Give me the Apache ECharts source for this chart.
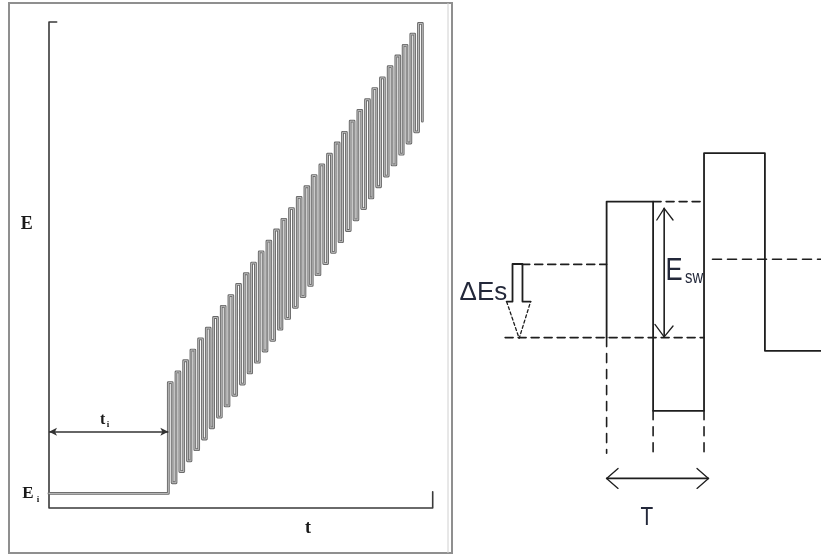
<!DOCTYPE html>
<html>
<head>
<meta charset="utf-8">
<script src="https://cdn.jsdelivr.net/npm/echarts@6/dist/echarts.min.js"></script>
<style>
html, body { margin: 0; padding: 0; background: #fff; }
#c { width: 821px; height: 555px; }
</style>
</head>
<body>
<div id="c"></div>
<script>
// ---------- Left panel: square-wave potential program, E vs t ----------
const restPotential = 3.0;      // E_i level
const restEnd = 31.1;           // t_i, end of the rest period
const tiArrowLevel = 15.7;      // height of the t_i dimension arrow

// time of each rising edge and falling edge of the pulses
const pulseUp = [31.1, 33.1, 35.1, 37.0, 39.0, 41.0, 42.9, 44.9, 46.9, 48.9, 50.9, 52.8,
                 54.8, 56.8, 58.8, 60.7, 62.7, 64.7, 66.7, 68.6, 70.6, 72.6, 74.6, 76.5,
                 78.5, 80.5, 82.5, 84.4, 86.4, 88.4, 90.4, 92.3, 94.3, 96.3];
const pulseDown = [32.1, 34.1, 36.1, 38.0, 40.0, 42.0, 43.9, 45.9, 47.9, 49.9, 51.9, 53.8,
                   55.8, 57.8, 59.8, 61.7, 63.7, 65.7, 67.7, 69.6, 71.6, 73.6, 75.6, 77.5,
                   79.5, 81.5, 83.5, 85.4, 87.4, 89.4, 91.4, 93.3, 95.3, 97.3];
// forward (top) and reverse (bottom) pulse potentials
const pulseTop = [25.8, 28.0, 30.3, 32.5, 34.8, 37.0, 39.2, 41.5, 43.7, 46.0, 48.2, 50.4,
                  52.7, 54.9, 57.2, 59.4, 61.6, 63.9, 66.1, 68.4, 70.6, 72.8, 75.1, 77.3,
                  79.6, 81.8, 84.0, 86.3, 88.5, 90.8, 93.0, 95.2, 97.5, 99.7];
const pulseBottom = [5.2, 7.5, 9.7, 12.0, 14.2, 16.5, 18.7, 21.0, 23.2, 25.5, 27.8, 30.0,
                     32.3, 34.5, 36.8, 39.0, 41.3, 43.5, 45.8, 48.0, 50.3, 52.6, 54.8, 57.1,
                     59.3, 61.6, 63.8, 66.1, 68.3, 70.6, 72.8, 75.1, 77.4, 79.6];

// ---------- Right panel: one period in detail ----------
const swEdges = [41.9, 54.5, 68.3, 84.8, 100];   // edge times
const swLevels = [84.6, 32.3, 96.7, 47.3];       // level held after each edge
const swStartLevel = 50.6;
const stepBefore = 68.9;     // staircase level before the step
const stepAfter = 50.6;      // staircase level after the step (ΔEs below)
const stepNext = 70.2;       // staircase level of the next period
const pulseTopLevel = 84.6;  // Esw top
const guideBottom = [21.7, 20.5, 20.5];  // lower ends of the dashed time guides
const periodArrowLevel = 15.4;
const eswArrowTime = 57.5;

const INK = '#1e1e1e';
const AXIS = '#3a3a3a';

// square-wave path for the left panel
const wave = [[0, restPotential], [restEnd, restPotential]];
for (let k = 0; k < pulseUp.length; k++) {
  wave.push([pulseUp[k], pulseTop[k]], [pulseDown[k], pulseTop[k]], [pulseDown[k], pulseBottom[k]]);
  if (k + 1 < pulseUp.length) wave.push([pulseUp[k + 1], pulseBottom[k]]);
}

// square-wave path for the right panel
const sw = [[swEdges[0], swStartLevel]];
for (let i = 0; i < swLevels.length; i++) {
  sw.push([swEdges[i], swLevels[i]], [swEdges[i + 1], swLevels[i]]);
  if (i + 1 < swLevels.length) sw.push([swEdges[i + 1], swLevels[i + 1]]);
}

function poly(grid, data, color, width, type, extra) {
  return Object.assign({
    type: 'line', xAxisIndex: grid, yAxisIndex: grid, data: data,
    symbol: 'none', silent: true, animation: false, clip: false,
    lineStyle: { color: color, width: width, type: type || 'solid', join: 'round', cap: 'round' }
  }, extra || {});
}

const chart = echarts.init(document.getElementById('c'), null, { renderer: 'canvas' });

const series = [
  // left axes with their end ticks
  poly(0, [[2.0, 100], [0, 100], [0, 0], [100, 0], [100, 3.35]], AXIS, 1.6),
  // waveform drawn as a hollow stroke
  poly(0, wave, '#686868', 2.8),
  poly(0, wave, '#c6c6c6', 0.9),
  // t_i dimension arrow
  {
    type: 'line', xAxisIndex: 0, yAxisIndex: 0, data: [], silent: true, animation: false,
    markLine: {
      silent: true, animation: false, symbol: ['arrow', 'arrow'], symbolSize: [6, 8],
      label: { show: false },
      lineStyle: { color: '#333', width: 1.6, type: 'solid' },
      data: [[{ coord: [0, tiArrowLevel] }, { coord: [restEnd, tiArrowLevel] }]]
    }
  },

  // right: square wave
  poly(1, sw, INK, 1.8),
  // dashed horizontal guides
  poly(1, [[18.9, stepBefore], [swEdges[0], stepBefore]], INK, 1.6, [8, 5]),
  poly(1, [[14.4, stepAfter], [swEdges[2], stepAfter]], INK, 1.6, [8, 5]),
  poly(1, [[swEdges[1], pulseTopLevel], [swEdges[2], pulseTopLevel]], INK, 1.6, [8, 5]),
  poly(1, [[70.6, stepNext], [100, stepNext]], INK, 1.6, [9, 6]),
  // dashed vertical time guides
  poly(1, [[swEdges[0], stepAfter], [swEdges[0], guideBottom[0]]], INK, 1.6, [9, 7]),
  poly(1, [[swEdges[1], swLevels[1]], [swEdges[1], guideBottom[1]]], INK, 1.6, [9, 7]),
  poly(1, [[swEdges[2], swLevels[1]], [swEdges[2], guideBottom[2]]], INK, 1.6, [9, 7]),
  // Esw double arrow
  poly(1, [[eswArrowTime, 82.9], [eswArrowTime, 50.8]], INK, 1.6),
  poly(1, [[55.5, 80.0], [eswArrowTime, 82.9], [59.9, 80.0]], INK, 1.3),
  poly(1, [[55.0, 53.9], [eswArrowTime, 50.8], [59.9, 53.5]], INK, 1.3),
  // T double arrow
  poly(1, [[swEdges[0], periodArrowLevel], [69.5, periodArrowLevel]], INK, 1.6),
  poly(1, [[45.0, 17.9], [swEdges[0], periodArrowLevel], [45.0, 12.9]], INK, 1.3),
  poly(1, [[66.4, 17.9], [69.5, periodArrowLevel], [66.4, 12.9]], INK, 1.3),
  // ΔEs block arrow: solid shaft, dashed head
  poly(1, [[14.8, 59.6], [16.4, 59.6], [16.4, 69.0], [19.1, 69.0], [19.1, 59.6], [21.3, 59.6]], INK, 1.8),
  poly(1, [[14.8, 59.6], [18.2, 50.4], [21.3, 59.6]], INK, 1.3, [3, 2.5])
];

chart.setOption({
  backgroundColor: '#ffffff',
  animation: false,
  grid: [
    { left: 49, top: 22, width: 383.7, height: 486 },
    { left: 452, top: 140, width: 369, height: 400 }
  ],
  xAxis: [
    { gridIndex: 0, type: 'value', min: 0, max: 100, show: false },
    { gridIndex: 1, type: 'value', min: 0, max: 100, show: false }
  ],
  yAxis: [
    { gridIndex: 0, type: 'value', min: 0, max: 100, show: false },
    { gridIndex: 1, type: 'value', min: 0, max: 100, show: false }
  ],
  series: series
});

// text placed through the axes of each grid
function label(grid, x, y, text, style, scaleX) {
  const p = chart.convertToPixel({ gridIndex: grid }, [x, y]);
  return {
    type: 'text', x: p[0], y: p[1], scaleX: scaleX || 1, silent: true,
    style: Object.assign({ text: text, align: 'center', verticalAlign: 'middle' }, style)
  };
}
const serif = { fontFamily: 'Liberation Serif', fontWeight: 'bold', fill: '#1a1a1a' };
const sans = {
  fontFamily: 'Liberation Sans', fill: '#23283a',
  textShadowColor: 'rgba(215,125,40,0.85)', textShadowOffsetX: -1, textShadowBlur: 0
};

chart.setOption({
  graphic: [
    { type: 'rect', silent: true, shape: { x: 9, y: 3, width: 443, height: 550 },
      style: { fill: 'none', stroke: '#8f8f8f', lineWidth: 2 } },
    { type: 'line', silent: true, shape: { x1: 448, y1: 3, x2: 448, y2: 553 },
      style: { stroke: '#d0d0d0', lineWidth: 1 } },
    label(0, -5.8, 58.4, 'E', Object.assign({ fontSize: 18 }, serif)),
    label(0, -5.5, 2.9, 'E', Object.assign({ fontSize: 17 }, serif)),
    label(0, -2.85, 1.8, 'i', Object.assign({ fontSize: 9 }, serif)),
    label(0, 14.0, 18.1, 't', Object.assign({ fontSize: 16 }, serif)),
    label(0, 15.4, 17.2, 'i', Object.assign({ fontSize: 9 }, serif)),
    label(0, 67.5, -4.1, 't', Object.assign({ fontSize: 18 }, serif)),
    label(1, 8.5, 61.9, 'ΔEs', Object.assign({ fontSize: 26 }, sans)),
    label(1, 60.2, 67.25, 'E', Object.assign({ fontSize: 32 }, sans), 0.8),
    label(1, 65.6, 65.6, 'sw', Object.assign({ fontSize: 19 }, sans), 0.78),
    label(1, 52.8, 5.6, 'T', Object.assign({ fontSize: 26 }, sans), 0.8)
  ]
});
</script>
</body>
</html>
